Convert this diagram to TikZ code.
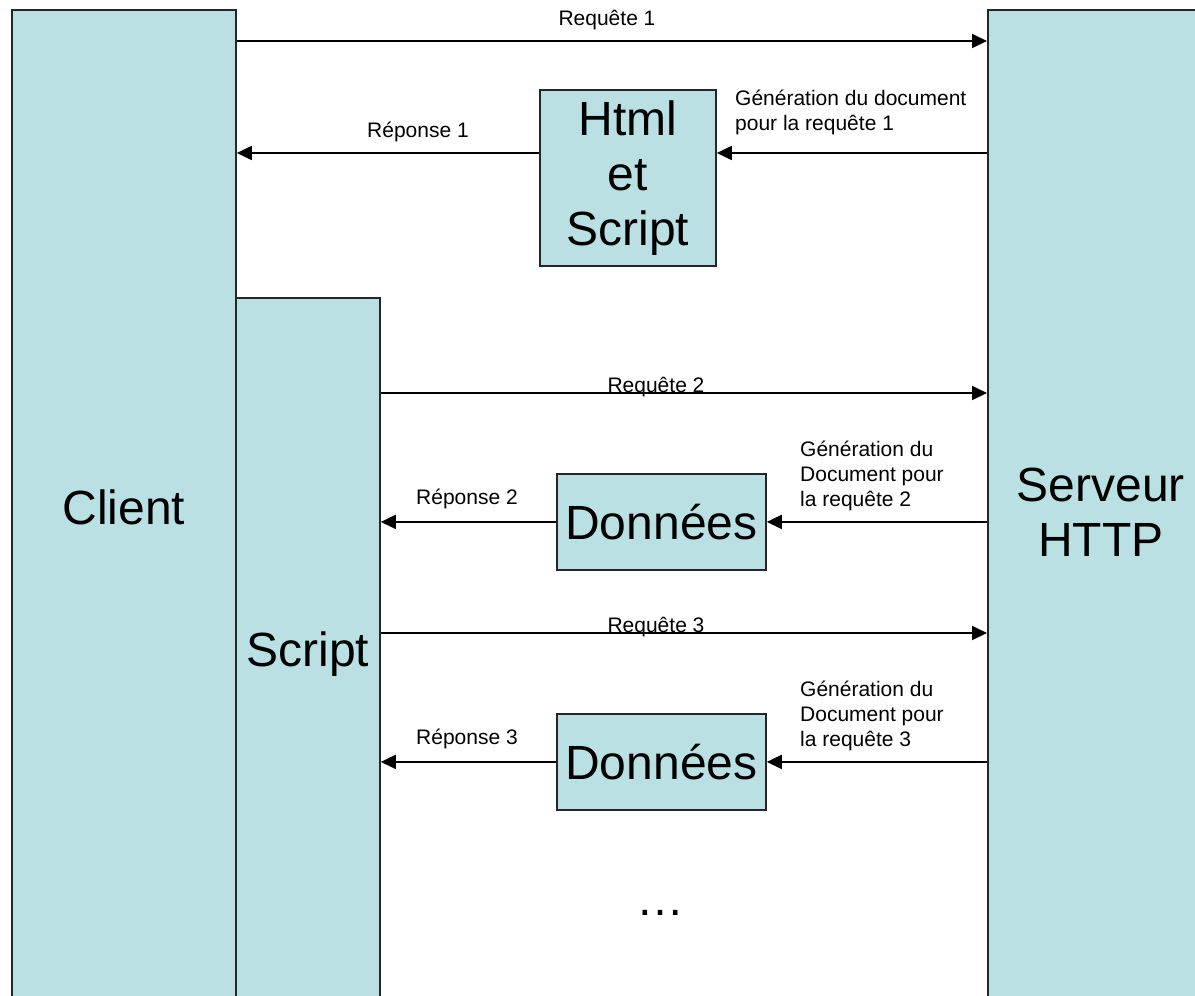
\documentclass[tikz,border=0pt]{standalone}
\usepackage{fontspec}
\setmainfont{Liberation Sans}
\usetikzlibrary{arrows.meta, positioning}
\definecolor{boite}{RGB}{187,224,227}

\begin{document}
\begin{tikzpicture}[x=1pt,y=-1pt,
    bloc/.style={draw=black!85, line width=1.8pt, fill=boite, inner sep=0pt,
      anchor=north west, align=center, font=\fontsize{48}{55}\selectfont},
    fleche/.style={line width=1.8pt, -{Triangle[length=15pt,width=14pt]}},
    etiq/.style={anchor=base, inner sep=0pt, font=\fontsize{21}{25}\selectfont},
    gen/.style={anchor=base west, align=left, inner sep=0pt, font=\fontsize{21}{25}\selectfont}]
      \useasboundingbox (0,0) rectangle (1195,996);
      \clip (0,0) rectangle (1195,996);
      % the three columns
      \node[bloc, minimum width=224pt, minimum height=994pt] (client) at (11,9) {Client};
      \node[bloc, minimum width=144pt, minimum height=712pt] (script) at (235,297) {Script};
      \node[bloc, minimum width=226pt, minimum height=1004pt] (serveur) at (987,9) {Serveur\\HTTP};
      % first exchange
      \node[bloc, minimum width=176pt, minimum height=176pt] (html) at (539,89) {Html\\et\\Script};
      \draw[fleche] (client.east |- 0,41) -- (serveur.west |- 0,41);
      \draw[fleche] (html.west |- 0,153) -- (client.east |- 0,153);
      \draw[fleche] (serveur.west |- 0,153) -- (html.east |- 0,153);
      \node[etiq] (req1) at (607,25) {Requête 1};
      \node[etiq] (rep1) at (418,137) {Réponse 1};
      \node[gen] (gen1) at (735,130) {Génération du document\\pour la requête 1};
      % exchanges 2 and 3
      \foreach \n/\y in {2/393,3/633} {
        \node[bloc, minimum width=209pt, minimum height=96pt] (donnees\n) at (556,\y+80) {Données};
        \draw[fleche] (script.east |- 0,\y) -- (serveur.west |- 0,\y);
        \draw[fleche] (donnees\n.west) -- (script.east |- donnees\n.west);
        \draw[fleche] (serveur.west |- donnees\n.east) -- (donnees\n.east);
        \node[etiq] (req\n) at (656,\y-1) {Requête \n};
        \node[etiq] (rep\n) at (467,\y+111) {Réponse \n};
        \node[gen] (gen\n) at (800,\y+113) {Génération du\\Document pour\\la requête \n};
      }
      \node[anchor=base, inner sep=0pt, font=\fontsize{48}{55}\selectfont] (suite) at (660,915) {…};
    \end{tikzpicture}
\end{document}
